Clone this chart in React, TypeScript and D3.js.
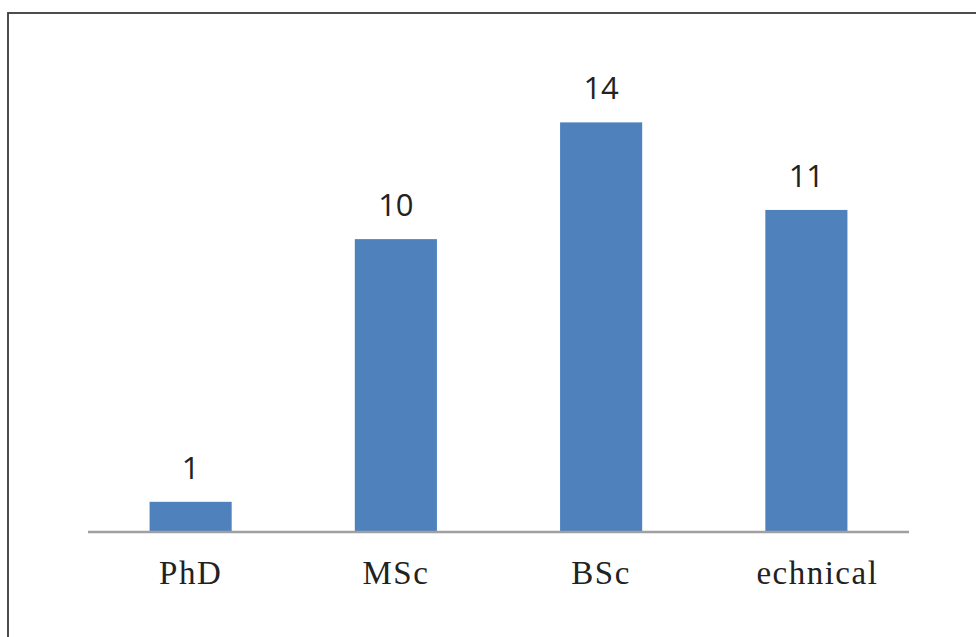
import React from "react";
import * as d3 from "d3";

const categories = ["PhD", "MSc", "BSc", "echnical"];
const values = [1, 10, 14, 11];
const yDomainMax = 16;

const W = 976;
const H = 637;
const plot = { left: 88, right: 909, top: 64, bottom: 531 };

export default function App() {
  const x = d3
    .scaleBand<string>()
    .domain(categories)
    .range([plot.left, plot.right])
    .paddingInner(0.6)
    .paddingOuter(0.3);
  const y = d3.scaleLinear().domain([0, yDomainMax]).range([plot.bottom, plot.top]);

  return (
    <svg
      width={W}
      height={H}
      style={{ position: "absolute", left: 0, top: 0, display: "block" }}
    >
      <rect x={0} y={0} width={W} height={H} fill="#fff" />
      <rect x={8} y={13} width={W + 20} height={H + 20} fill="none" stroke="#3a3a3a" strokeWidth={1.8} />
      {categories.map((c, i) => (
        <rect
          key={c}
          x={x(c)}
          y={y(values[i])}
          width={x.bandwidth()}
          height={y(0) - y(values[i])}
          fill="#4f81bd"
        />
      ))}
      <line
        x1={plot.left}
        x2={plot.right}
        y1={y(0) + 1}
        y2={y(0) + 1}
        stroke="#a0a0a0"
        strokeWidth={2.5}
      />
      {categories.map((c, i) => (
        <text
          key={"v" + c}
          x={(x(c) as number) + x.bandwidth() / 2}
          y={y(values[i]) - 23}
          textAnchor="middle"
          fontFamily="'Open Sans', sans-serif"
          fontSize={31}
          fill="#222"
        >
          {values[i]}
        </text>
      ))}
      {categories.map((c, i) => (
        <text
          key={"c" + c}
          x={(x(c) as number) + x.bandwidth() / 2}
          dx={i === categories.length - 1 ? 11 : 0}
          y={584}
          textAnchor="middle"
          fontFamily="'Liberation Serif', 'Times New Roman', serif"
          fontSize={33}
          letterSpacing={1.5}
          fill="#222"
        >
          {c}
        </text>
      ))}
    </svg>
  );
}
